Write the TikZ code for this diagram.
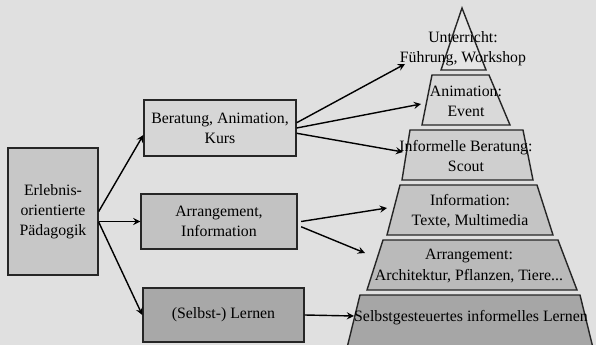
\documentclass[tikz,border=0pt]{standalone}
\usepackage{fontspec}
\setmainfont{Liberation Serif}
\begin{document}
\begin{tikzpicture}[x=0.02cm,y=-0.02cm,
    every node/.style={font=\fontsize{9}{11.4}\selectfont},
    box/.style={draw=black!85, thick, align=center, inner sep=0pt},
    level/.style={draw=black!85, thick},
    lbl/.style={align=center, inner sep=0pt},
    arr/.style={thick,-stealth}]
  \useasboundingbox[fill=black!12] (0,0) rectangle (596,345);

  % left part
  \node[box, fill=black!22, minimum width=1.8cm, minimum height=2.54cm] (erleb) at (53,211.5) {Erlebnis-\\orientierte\\Pädagogik};
  \node[box, fill=black!16, minimum width=3.04cm, minimum height=1.12cm] (berat) at (220,128) {Beratung, Animation,\\Kurs};
  \node[box, fill=black!24, minimum width=3.12cm, minimum height=1.1cm] (arrang) at (219,221.5) {Arrangement,\\Information};
  \node[box, fill=black!34, minimum width=3.22cm, minimum height=1.08cm] (selbst) at (223.5,315) {(Selbst-) Lernen};

  % pyramid
  \draw[level, fill=black!10] (462,8) -- (486,70) -- (441,70) -- cycle;
  \draw[level, fill=black!15] (432,75) -- (489,75) -- (510,125) -- (422,125) -- cycle;
  \draw[level, fill=black!19] (410,130) -- (523,130) -- (533,180) -- (402,180) -- cycle;
  \draw[level, fill=black!23] (400,185) -- (537,185) -- (553,235) -- (387,235) -- cycle;
  \draw[level, fill=black!27] (383,240) -- (558,240) -- (577,290) -- (367,290) -- cycle;
  \draw[level, fill=black!35] (360,295) -- (580,295) -- (594,352) -- (346,352) -- cycle;

  \node[lbl] (unter) at (463,49) {Unterricht:\\Führung, Workshop};
  \node[lbl] (anim) at (466,101) {Animation:\\Event};
  \node[lbl] (inform) at (466,156) {Informelle Beratung:\\Scout};
  \node[lbl] (info) at (470,211) {Information:\\Texte, Multimedia};
  \node[lbl] (arrlev) at (469,266) {Arrangement:\\Architektur, Pflanzen, Tiere...};
  \node[lbl] (selblev) at (471,318) {Selbstgesteuertes informelles Lernen};

  \coordinate (t1) at (405,64);
  \coordinate (t2) at (421,104);
  \coordinate (t3) at (403,152);
  \coordinate (t4) at (387,208);
  \coordinate (t5) at (365,253);
  \coordinate (t6) at (354,316);

  % arrows
  \draw[arr] (erleb.east) -- ([yshift=-4pt]berat.west);
  \draw[arr] (erleb.east |- arrang.west) -- (arrang.west);
  \draw[arr] ([yshift=-6pt]erleb.east) -- (selbst.west);

  \draw[arr] ([yshift=3pt]berat.east) -- (t1);
  \draw[arr] (berat.east) -- (t2);
  \draw[arr] ([yshift=-3pt]berat.east) -- (t3);
  \draw[arr] ([xshift=2pt]arrang.east) -- (t4);
  \draw[arr] ([xshift=2pt,yshift=-3pt]arrang.east) -- (t5);
  \draw[arr] (selbst.east) -- (t6);
\end{tikzpicture}
\end{document}
